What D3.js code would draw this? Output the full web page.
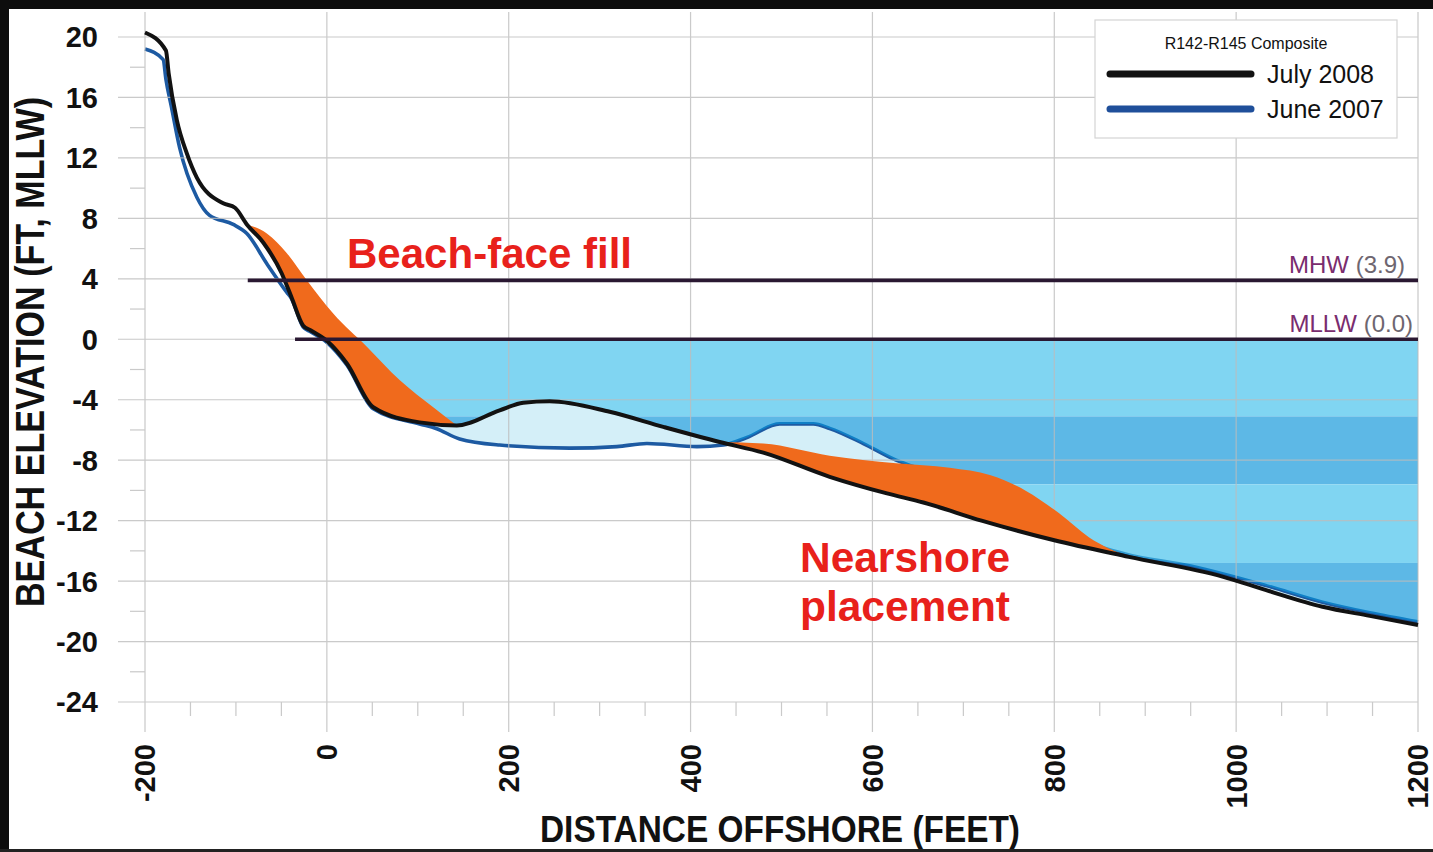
<!DOCTYPE html>
<html>
<head>
<meta charset="utf-8">
<script src="https://cdn.jsdelivr.net/npm/d3@7"></script>
<style>
  html, body { margin: 0; padding: 0; background: #fff; }
  svg { display: block; font-family: "Liberation Sans", Arial, sans-serif; }
</style>
</head>
<body>
<svg id="chart" width="1433" height="852"></svg>
<script>
// Beach profile, R142-R145 composite: elevation (ft, MLLW) vs distance offshore (ft)
const july2008 = [[-200,20.3],[-177,19.1],[-174,17.6],[-165,14.5],[-154,12.3],[-143,10.7],[-114,9.0],[-101,8.7],[-88,7.6],[-70,6.4],[-50,4.4],[-39,2.8],[-26,0.9],[-18,0.6],[0,-0.1],[22,-1.6],[51,-4.5],[102,-5.5],[143,-5.7],[190,-4.7],[216,-4.2],[245,-4.1],[311,-4.8],[370,-5.8],[432,-6.8],[480,-7.5],[553,-9.1],[616,-10.2],[656,-10.8],[720,-12.0],[800,-13.3],[882,-14.4],[985,-15.7],[1033,-16.6],[1095,-17.7],[1147,-18.3],[1200,-18.9]];
const june2007 = [[-200,19.2],[-180,18.5],[-177,17.2],[-171,15.4],[-162,12.7],[-143,9.4],[-129,8.2],[-103,7.6],[-88,7.0],[-66,5.0],[-44,3.1],[-39,2.7],[-26,0.8],[-18,0.5],[0,-0.2],[22,-1.7],[51,-4.6],[102,-5.6],[120,-5.9],[146,-6.6],[190,-7.0],[267,-7.2],[319,-7.1],[352,-6.9],[407,-7.1],[436,-7.0],[462,-6.5],[498,-5.6],[535,-5.6],[553,-5.9],[590,-6.9],[626,-8.0],[660,-8.7],[700,-9.1],[740,-9.6],[780,-11.0],[820,-12.6],[850,-13.7],[878,-14.2],[950,-15.0],[1033,-16.3],[1095,-17.4],[1147,-18.1],[1200,-18.7]];
// Upper surfaces of the placed sand (lower surface is the July 2008 survey)
const beachFillTop = [[-88,7.6],[-66,7.0],[-44,5.7],[-22,3.9],[7,1.7],[44,-0.5],[80,-2.7],[117,-4.5],[143,-5.7]];
const nearshoreTop = [[432,-6.8],[480,-6.9],[553,-7.7],[626,-8.2],[685,-8.5],[730,-9.0],[768,-10.0],[805,-11.5],[838,-13.1],[882,-14.4]];
// Tidal datums
const datumNames = ["MHW", "MLLW"];
const datumValues = [3.9, 0.0];
const datumStarts = [-87, -35];
const datumLabels = ["(3.9)", "(0.0)"];
// Axis ticks
const xTicks = [-200, 0, 200, 400, 600, 800, 1000, 1200];
const yTicks = [20, 16, 12, 8, 4, 0, -4, -8, -12, -16, -20, -24];
// Water shading bands (ft)
const waterBandEdges = [0, -5.1, -9.6, -14.8, -24];
const legendNames = ["July 2008", "June 2007"];

const svg = d3.select("#chart");
const W = 1433, H = 852;

const x = d3.scaleLinear().domain([-200, 1200]).range([145, 1418]);
const y = d3.scaleLinear().domain([-24, 20]).range([702, 37]);

const defs = svg.append("defs");
const curve = d3.curveMonotoneX;

function areaAbove(data) {
  return d3.area().x(d => x(d[0])).y0(0).y1(d => y(d[1])).curve(curve)(data);
}
function areaBelow(data) {
  return d3.area().x(d => x(d[0])).y0(H).y1(d => y(d[1])).curve(curve)(data);
}
[["above08", areaAbove(july2008)], ["above07", areaAbove(june2007)],
 ["below08", areaBelow(july2008)], ["below07", areaBelow(june2007)]]
  .forEach(([id, p]) => defs.append("clipPath").attr("id", id).append("path").attr("d", p));

// background
svg.append("rect").attr("width", W).attr("height", H).attr("fill", "#fff");

const waterRect = g => g.append("rect")
  .attr("x", x(-200)).attr("width", x(1200) - x(-200))
  .attr("y", y(0)).attr("height", y(-24) - y(0));

// pale area between the two surveys
const paleColor = "#d4eff8";
waterRect(svg.append("g").attr("clip-path", "url(#above07)").append("g").attr("clip-path", "url(#below08)")).attr("fill", paleColor);
waterRect(svg.append("g").attr("clip-path", "url(#above08)").append("g").attr("clip-path", "url(#below07)")).attr("fill", paleColor);

// June 2007 profile
const line = d3.line().x(d => x(d[0])).y(d => y(d[1])).curve(curve);
svg.append("path").attr("d", line(june2007)).attr("fill", "none")
  .attr("stroke", "#1d5aa2").attr("stroke-width", 3.6).attr("stroke-linejoin", "round");

// water above both profiles, banded
const water = svg.append("g").attr("clip-path", "url(#above08)")
  .append("g").attr("clip-path", "url(#above07)").attr("opacity", 0.66);
const bandColors = ["#3fc0ec", "#0a94da", "#3fc0ec", "#0a94da"];
water.selectAll("rect").data(d3.pairs(waterBandEdges)).join("rect")
  .attr("x", x(-200)).attr("width", x(1200) - x(-200))
  .attr("y", d => y(d[0])).attr("height", d => y(d[1]) - y(d[0]))
  .attr("fill", (d, i) => bandColors[i]);

// grid
const grid = svg.append("g").attr("stroke", "#bdbdbd").attr("stroke-width", 1.2).attr("opacity", 0.8);
grid.selectAll("line.h").data(yTicks).join("line").attr("class", "h")
  .attr("x1", 118).attr("x2", x(1200)).attr("y1", d => y(d)).attr("y2", d => y(d));
grid.selectAll("line.v").data(xTicks).join("line").attr("class", "v")
  .attr("x1", d => x(d)).attr("x2", d => x(d)).attr("y1", 12).attr("y2", 732);
grid.selectAll("line.m").data(d3.range(-150, 1200, 50).filter(v => v % 200 !== 0)).join("line").attr("class", "m")
  .attr("x1", d => x(d)).attr("x2", d => x(d)).attr("y1", y(-24)).attr("y2", y(-24) + 14);
grid.selectAll("line.ym").data(d3.range(-22, 20, 4)).join("line").attr("class", "ym")
  .attr("x1", 130).attr("x2", x(-200)).attr("y1", d => y(d)).attr("y2", d => y(d));

// sand placements, bounded below by the July 2008 survey
const fillArea = d3.area().x(d => x(d[0])).y0(H).y1(d => y(d[1])).curve(curve);
const sand = svg.append("g").attr("clip-path", "url(#above08)");
sand.append("path").attr("d", fillArea(beachFillTop)).attr("fill", "#f06a1c");
sand.append("path").attr("d", fillArea(nearshoreTop)).attr("fill", "#f06a1c");

// July 2008 profile
svg.append("path").attr("d", line(july2008)).attr("fill", "none")
  .attr("stroke", "#121212").attr("stroke-width", 4).attr("stroke-linejoin", "round");

// tidal datum lines
datumNames.forEach((name, i) => {
  svg.append("line")
    .attr("x1", x(datumStarts[i])).attr("x2", x(1200))
    .attr("y1", y(datumValues[i])).attr("y2", y(datumValues[i]))
    .attr("stroke", "#2a1832").attr("stroke-width", 3.6);
  const t = svg.append("text")
    .attr("x", i === 0 ? 1405 : 1413).attr("y", y(datumValues[i]) - 7)
    .attr("text-anchor", "end").attr("font-size", 24);
  t.append("tspan").attr("fill", "#7a2c6e").text(name + " ");
  t.append("tspan").attr("fill", "#6e6670").text(datumLabels[i]);
});

// y tick labels
svg.selectAll("text.yt").data(yTicks).join("text").attr("class", "yt")
  .attr("x", 98).attr("y", d => y(d)).attr("dy", "0.36em")
  .attr("text-anchor", "end").attr("font-weight", "bold").attr("font-size", 29)
  .attr("fill", "#111").text(d => d);

// x tick labels (rotated)
svg.selectAll("text.xt").data(xTicks).join("text").attr("class", "xt")
  .attr("transform", d => `translate(${x(d)},744) rotate(-90)`)
  .attr("dy", "0.36em").attr("text-anchor", "end")
  .attr("font-weight", "bold").attr("font-size", 29).attr("fill", "#111").text(d => d);

// axis titles
svg.append("text").attr("transform", "translate(44,352) rotate(-90)")
  .attr("text-anchor", "middle").attr("font-weight", "bold").attr("font-size", 40)
  .attr("textLength", 510).attr("lengthAdjust", "spacingAndGlyphs")
  .attr("fill", "#111").text("BEACH ELEVATION (FT, MLLW)");
svg.append("text").attr("x", 780).attr("y", 842)
  .attr("text-anchor", "middle").attr("font-weight", "bold").attr("font-size", 37)
  .attr("textLength", 480).attr("lengthAdjust", "spacingAndGlyphs")
  .attr("fill", "#111").text("DISTANCE OFFSHORE (FEET)");

// annotations
const red = "#e8211b";
svg.append("text").attr("x", 347).attr("y", 268).attr("font-weight", "bold")
  .attr("font-size", 43).attr("textLength", 285).attr("lengthAdjust", "spacingAndGlyphs")
  .attr("fill", red).text("Beach-face fill");
svg.append("text").attr("x", 800).attr("y", 572).attr("font-weight", "bold")
  .attr("font-size", 43).attr("textLength", 210).attr("lengthAdjust", "spacingAndGlyphs")
  .attr("fill", red).text("Nearshore");
svg.append("text").attr("x", 800).attr("y", 621).attr("font-weight", "bold")
  .attr("font-size", 43).attr("textLength", 210).attr("lengthAdjust", "spacingAndGlyphs")
  .attr("fill", red).text("placement");

// legend
const lg = svg.append("g");
lg.append("rect").attr("x", 1095).attr("y", 20).attr("width", 302).attr("height", 118)
  .attr("fill", "#fff").attr("stroke", "#d4d4d4").attr("stroke-width", 1.2);
lg.append("text").attr("x", 1246).attr("y", 49).attr("text-anchor", "middle")
  .attr("font-size", 16).attr("fill", "#111").text("R142-R145 Composite");
const legendColors = ["#121212", "#1f4f9a"];
legendNames.forEach((n, i) => {
  const yy = 74 + i * 35;
  lg.append("line").attr("x1", 1110).attr("x2", 1251).attr("y1", yy).attr("y2", yy)
    .attr("stroke", legendColors[i]).attr("stroke-width", 7).attr("stroke-linecap", "round");
  lg.append("text").attr("x", 1267).attr("y", yy + 9).attr("font-size", 25)
    .attr("fill", "#111").text(n);
});

// frame edges
svg.append("rect").attr("x", 0).attr("y", 0).attr("width", W).attr("height", 9).attr("fill", "#0d0d0d");
svg.append("rect").attr("x", 0).attr("y", 0).attr("width", 9).attr("height", H).attr("fill", "#0d0d0d");
svg.append("rect").attr("x", 0).attr("y", 849).attr("width", W).attr("height", 3).attr("fill", "#222");
</script>
</body>
</html>
